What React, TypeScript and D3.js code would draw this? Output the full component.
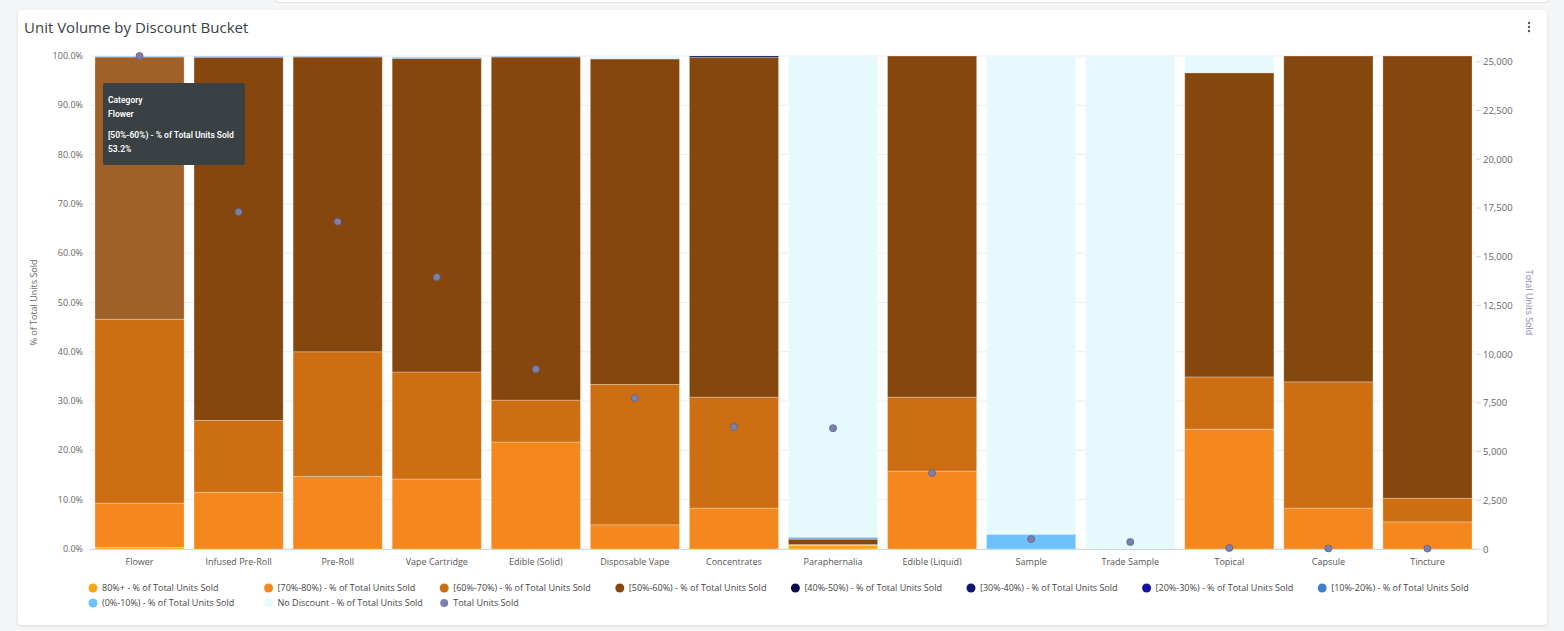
import * as d3 from "d3";

// categories along the x axis
const categories = [
  "Flower", "Infused Pre-Roll", "Pre-Roll", "Vape Cartridge", "Edible (Solid)",
  "Disposable Vape", "Concentrates", "Paraphernalia", "Edible (Liquid)", "Sample",
  "Trade Sample", "Topical", "Capsule", "Tincture",
];

// % of total units sold per discount bucket
const p80 = [0.3, 0, 0, 0, 0, 0, 0, 0.7, 0, 0, 0, 0, 0, 0];
const p70 = [9.0, 11.5, 14.7, 14.2, 21.7, 4.9, 8.3, 0.1, 15.8, 0, 0, 24.3, 8.3, 5.5];
const p60 = [37.3, 14.6, 25.3, 21.7, 8.5, 28.5, 22.5, 0.1, 15.0, 0, 0, 10.6, 25.6, 4.8];
const p50 = [53.2, 73.6, 59.8, 63.6, 69.6, 66.0, 68.9, 1.1, 69.2, 0, 0, 61.7, 66.1, 89.7];
const p40 = [0, 0, 0, 0, 0, 0, 0.3, 0, 0, 0, 0, 0, 0, 0];
const p30 = [0, 0.05, 0, 0, 0, 0, 0, 0, 0, 0, 0, 0, 0, 0];
const p20 = [0, 0.1, 0.05, 0, 0.05, 0, 0, 0.05, 0, 0, 0, 0, 0, 0];
const p10 = [0.1, 0.1, 0.1, 0.1, 0.1, 0, 0, 0.2, 0, 0, 0, 0, 0, 0];
const p0 = [0.1, 0.05, 0.05, 0.2, 0.05, 0.1, 0, 0.2, 0, 3.0, 0, 0, 0, 0];
const noDiscount = [0, 0, 0, 0.2, 0, 0.5, 0, 97.55, 0, 97.0, 100, 3.4, 0, 0];

// total units sold (right axis)
const totalUnits = [25300, 17300, 16800, 13950, 9230, 7740, 6260, 6200, 3900, 510, 360, 50, 30, 20];

const leftTicks = [0, 10, 20, 30, 40, 50, 60, 70, 80, 90, 100];
const rightTicks = [0, 2500, 5000, 7500, 10000, 12500, 15000, 17500, 20000, 22500, 25000];

const seriesNames = [
  "80%+ - % of Total Units Sold",
  "[70%-80%) - % of Total Units Sold",
  "[60%-70%) - % of Total Units Sold",
  "[50%-60%) - % of Total Units Sold",
  "[40%-50%) - % of Total Units Sold",
  "[30%-40%) - % of Total Units Sold",
  "[20%-30%) - % of Total Units Sold",
  "[10%-20%) - % of Total Units Sold",
  "(0%-10%) - % of Total Units Sold",
  "No Discount - % of Total Units Sold",
];
const seriesColors = [
  "#fba31c", "#f5871f", "#cd6e13", "#86470f", "#0b0d48",
  "#10166f", "#13139f", "#3e7fcd", "#6ec2fb", "#e6f9fd",
];
const seriesValues = [p80, p70, p60, p50, p40, p30, p20, p10, p0, noDiscount];
const dotColor = "#7d80a8";

const font = "'Open Sans', sans-serif";

const W = 1564;
const H = 631;
const plot = { left: 90, right: 1477, top: 56, bottom: 549 };

// Highcharts style hover brighten
const brighten = (c: string, a: number) => {
  const r = d3.rgb(c);
  return d3.rgb(Math.min(255, r.r + a * 255), Math.min(255, r.g + a * 255), Math.min(255, r.b + a * 255)).formatHex();
};

export default function App() {
  const keys = seriesNames.map((_, i) => "s" + i);
  const table = categories.map((c, ci) => {
    const row: any = { category: c };
    keys.forEach((k, si) => (row[k] = seriesValues[si][ci]));
    return row;
  });
  const stacked = d3.stack().keys(keys)(table);

  const x = d3.scaleBand().domain(categories).range([plot.left, plot.right]).paddingInner(0.1).paddingOuter(0.05);
  const y = d3.scaleLinear().domain([0, 100]).range([plot.bottom, plot.top]);
  const y2 = d3.scaleLinear().domain([0, d3.max(totalUnits)!]).range([plot.bottom, plot.top]);
  const fmtPct = d3.format(".1f");
  const fmtNum = d3.format(",");

  const legendX = (i: number) => 93 + (i % 8) * 175.6;
  const legendY = (i: number) => 588 + Math.floor(i / 8) * 15;
  const legendItems = [...seriesNames.map((n, i) => ({ n, c: seriesColors[i] })), { n: "Total Units Sold", c: dotColor }];

  return (
    <div style={{ position: "absolute", left: 0, top: 0, width: W, height: H }}>
      <svg width={W} height={H} style={{ display: "block", fontFamily: font }}>
        <defs>
          <filter id="shadow" x="-5%" y="-5%" width="110%" height="110%">
            <feDropShadow dx="0" dy="1" stdDeviation="1.5" floodColor="#000" floodOpacity="0.12" />
          </filter>
        </defs>
        <rect x={0} y={0} width={W} height={H} fill="#f4f5f7" />
        <rect x={277} y={-10} width={1270} height={12} rx={4} fill="#fff" filter="url(#shadow)" />
        <rect x={18} y={10} width={1529} height={615} rx={4} fill="#fff" filter="url(#shadow)" />

        <text x={24} y={33} fontSize={15} fill="#3a3f44">Unit Volume by Discount Bucket</text>
        {[23, 27, 31].map((cy) => (
          <circle key={cy} cx={1529} cy={cy} r={1.2} fill="#555" />
        ))}

        {/* grid */}
        {leftTicks.map((t) => (
          <line key={t} x1={plot.left} x2={plot.right} y1={y(t)} y2={y(t)} stroke="#ececec" strokeWidth={1} />
        ))}

        {/* left axis */}
        {leftTicks.map((t) => (
          <text key={t} x={83} y={y(t) + 3} fontSize={9} fill="#666" textAnchor="end">{fmtPct(t)}%</text>
        ))}
        <text transform={`translate(37,${(plot.top + plot.bottom) / 2}) rotate(-90)`} fontSize={9} fill="#666" textAnchor="middle">
          % of Total Units Sold
        </text>

        {/* right axis */}
        {rightTicks.map((t) => (
          <g key={t}>
            <line x1={plot.right - 1} x2={plot.right + 4} y1={y2(t)} y2={y2(t)} stroke="#ccd6eb" />
            <text x={1483} y={y2(t) + 3.5} fontSize={9.5} fill="#666">{fmtNum(t)}</text>
          </g>
        ))}
        <text transform={`translate(1526,${(plot.top + plot.bottom) / 2}) rotate(90)`} fontSize={9} fill="#8586b6" textAnchor="middle">
          Total Units Sold
        </text>

        {/* stacked columns */}
        {stacked.map((s, si) => (
          <g key={s.key}>
            {s.map((d, ci) => {
              const h = y(d[0]) - y(d[1]);
              if (h <= 0) return null;
              const hovered = si === 3 && ci === 0;
              return (
                <rect
                  key={ci}
                  x={x(categories[ci])!}
                  y={y(d[1])}
                  width={x.bandwidth()}
                  height={h}
                  fill={hovered ? brighten(seriesColors[si], 0.1) : seriesColors[si]}
                  stroke="#fff"
                  strokeOpacity={0.35}
                  strokeWidth={0.8}
                />
              );
            })}
          </g>
        ))}

        {/* x axis */}
        <line x1={plot.left} x2={plot.right} y1={plot.bottom + 0.5} y2={plot.bottom + 0.5} stroke="#ccd6eb" />
        {categories.map((c) => (
          <text key={c} x={x(c)! + x.bandwidth() / 2} y={565} fontSize={9} fill="#555" textAnchor="middle">{c}</text>
        ))}

        {/* total units dots */}
        {totalUnits.map((v, i) => (
          <circle key={i} cx={x(categories[i])! + x.bandwidth() / 2} cy={y2(v)} r={3.5} fill={dotColor} stroke="#5d6190" strokeWidth={0.8} />
        ))}

        {/* legend */}
        {legendItems.map((it, i) => (
          <g key={it.n}>
            <circle cx={legendX(i)} cy={legendY(i)} r={it.n === "Total Units Sold" ? 4 : 4.5} fill={it.c} />
            <text x={legendX(i) + 9} y={legendY(i) + 3} fontSize={9} fill="#444">{it.n}</text>
          </g>
        ))}

        {/* tooltip */}
        <g fontFamily="Roboto, sans-serif" fontWeight={600} fill="#fff" fontSize={8.5}>
          <rect x={103} y={83} width={142} height={82} rx={2} fill="#3a4145" />
          <text x={108} y={103}>Category</text>
          <text x={108} y={117}>Flower</text>
          <text x={108} y={138}>{seriesNames[3]}</text>
          <text x={108} y={152}>{fmtPct(p50[0])}%</text>
        </g>
      </svg>
    </div>
  );
}
